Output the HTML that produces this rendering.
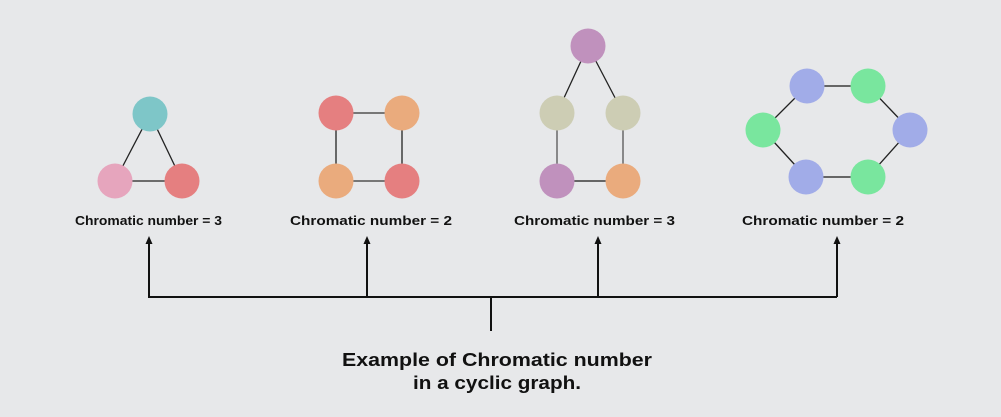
<!DOCTYPE html>
<html><head><meta charset="utf-8"><style>html,body{margin:0;padding:0;background:#e7e8ea}svg{display:block}</style></head>
<body>
<svg width="1001" height="417" viewBox="0 0 1001 417" xmlns="http://www.w3.org/2000/svg">
<rect width="1001" height="417" fill="#e7e8ea"/>
<g stroke="#222" stroke-width="1.3">
<line x1="150" y1="114" x2="115" y2="181"/><line x1="150" y1="114" x2="182" y2="181"/><line x1="115" y1="181" x2="182" y2="181"/>
<line x1="336" y1="113" x2="402" y2="113" stroke="#777" stroke-width="2"/><line x1="336" y1="181" x2="402" y2="181" stroke="#777" stroke-width="2"/>
<line x1="336" y1="113" x2="336" y2="181"/><line x1="402" y1="113" x2="402" y2="181"/>
<line x1="588" y1="46" x2="557" y2="113"/><line x1="588" y1="46" x2="623" y2="113"/>
<line x1="557" y1="113" x2="557" y2="181" stroke="#555"/><line x1="623" y1="113" x2="623" y2="181" stroke="#555"/><line x1="557" y1="181" x2="623" y2="181" stroke="#666" stroke-width="2"/>
<line x1="807" y1="86" x2="868" y2="86" stroke="#666" stroke-width="2"/><line x1="868" y1="86" x2="910" y2="130"/><line x1="910" y1="130" x2="868" y2="177"/>
<line x1="868" y1="177" x2="806" y2="177" stroke="#666" stroke-width="2"/><line x1="806" y1="177" x2="763" y2="130"/><line x1="763" y1="130" x2="807" y2="86"/>
</g>
<circle cx="150" cy="114" r="17.5" fill="#7ec6c8"/><circle cx="115" cy="181" r="17.5" fill="#e6a5bd"/><circle cx="182" cy="181" r="17.5" fill="#e57f80"/>
<circle cx="336" cy="113" r="17.5" fill="#e57f80"/><circle cx="402" cy="113" r="17.5" fill="#eaab7d"/><circle cx="336" cy="181" r="17.5" fill="#eaab7d"/><circle cx="402" cy="181" r="17.5" fill="#e57f80"/>
<circle cx="588" cy="46" r="17.5" fill="#c091bd"/><circle cx="557" cy="113" r="17.5" fill="#cdcdb4"/><circle cx="623" cy="113" r="17.5" fill="#cdcdb4"/><circle cx="557" cy="181" r="17.5" fill="#c091bd"/><circle cx="623" cy="181" r="17.5" fill="#eaab7d"/>
<circle cx="807" cy="86" r="17.5" fill="#a1ace8"/><circle cx="868" cy="86" r="17.5" fill="#79e69e"/><circle cx="763" cy="130" r="17.5" fill="#79e69e"/><circle cx="910" cy="130" r="17.5" fill="#a1ace8"/><circle cx="806" cy="177" r="17.5" fill="#a1ace8"/><circle cx="868" cy="177" r="17.5" fill="#79e69e"/>
<g font-family="Liberation Sans, sans-serif" font-size="13" fill="#111" font-weight="bold">
<text x="75" y="225" textLength="147" lengthAdjust="spacingAndGlyphs">Chromatic number = 3</text>
<text x="290" y="225" textLength="162" lengthAdjust="spacingAndGlyphs">Chromatic number = 2</text>
<text x="514" y="225" textLength="161" lengthAdjust="spacingAndGlyphs">Chromatic number = 3</text>
<text x="742" y="225" textLength="162" lengthAdjust="spacingAndGlyphs">Chromatic number = 2</text>
</g>
<g stroke="#111" stroke-width="2" fill="none">
<polyline points="149,240 149,297 837,297"/>
<line x1="367" y1="240" x2="367" y2="297"/><line x1="598" y1="240" x2="598" y2="297"/><line x1="837" y1="240" x2="837" y2="297"/>
<line x1="491" y1="297" x2="491" y2="331"/>
</g>
<g fill="#111">
<polygon points="149,236 145.5,244 152.5,244"/><polygon points="367,236 363.5,244 370.5,244"/><polygon points="598,236 594.5,244 601.5,244"/><polygon points="837,236 833.5,244 840.5,244"/>
</g>
<g font-family="Liberation Sans, sans-serif" font-size="18" fill="#111" font-weight="bold" text-anchor="middle">
<text x="497" y="366" textLength="310" lengthAdjust="spacingAndGlyphs">Example of Chromatic number</text>
<text x="497" y="389" textLength="168" lengthAdjust="spacingAndGlyphs">in a cyclic graph.</text>
</g>
</svg>
</body></html>
